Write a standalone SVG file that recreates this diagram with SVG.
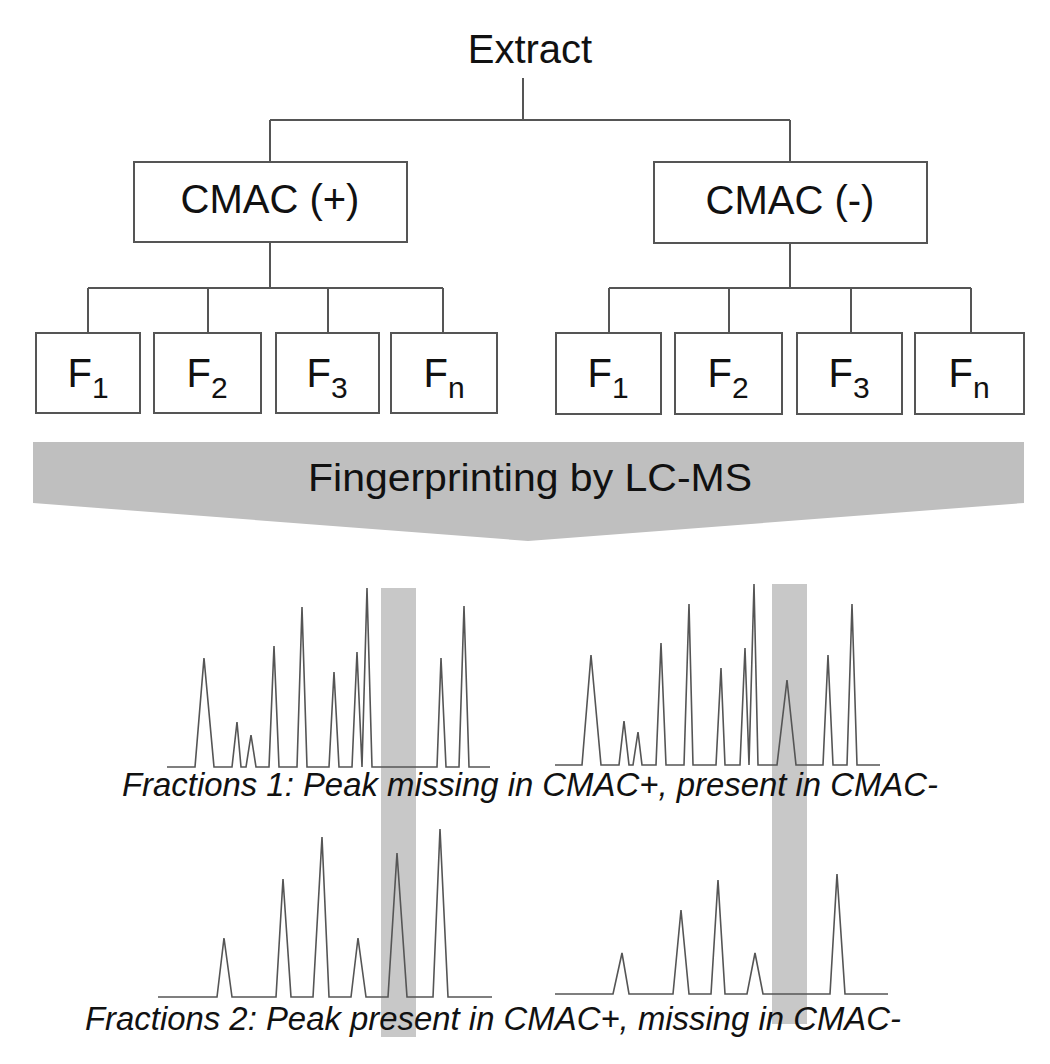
<svg xmlns="http://www.w3.org/2000/svg" width="1050" height="1064" viewBox="0 0 1050 1064">
<style>
  text { font-family: "Liberation Sans", Arial, sans-serif; fill: #111; }
  .box { fill: #fff; stroke: #555; stroke-width: 2; }
  .conn { fill: none; stroke: #555; stroke-width: 2; }
  .big { font-size: 40px; text-anchor: middle; }
  .sub { font-size: 30px; }
  .chrom { fill: none; stroke: #555; stroke-width: 1.6; stroke-linejoin: miter; }
  .bar { fill: #c8c8c8; }
  .cap { font-size: 33px; font-style: italic; }
</style>
<rect width="1050" height="1064" fill="#fff"/>

<g id="connectors">
  <path class="conn" d="M523,78 V120 M270,120 H790 M270,120 V162 M790,120 V162"/>
  <path class="conn" d="M270,242 V288 M88,288 H443 M88,288 V333 M208,288 V333 M328,288 V333 M443,288 V333"/>
  <path class="conn" d="M790,243 V288 M609,288 H971 M609,288 V333 M729,288 V333 M851,288 V333 M971,288 V333"/>
</g>

<g id="extract"><text class="big" x="530" y="63">Extract</text></g>

<g id="cmac-plus">
  <rect class="box" x="134" y="162" width="273" height="80"/>
  <text class="big" x="270" y="213">CMAC (+)</text>
</g>
<g id="cmac-minus">
  <rect class="box" x="654" y="162" width="273" height="81"/>
  <text class="big" x="790" y="214">CMAC (-)</text>
</g>

<g id="plus-f1"><rect class="box" x="36" y="333" width="104" height="80"/><text class="big" x="88" y="387">F<tspan class="sub" dy="11">1</tspan></text></g>
<g id="plus-f2"><rect class="box" x="154" y="333" width="107" height="80"/><text class="big" x="207" y="387">F<tspan class="sub" dy="11">2</tspan></text></g>
<g id="plus-f3"><rect class="box" x="276" y="333" width="103" height="80"/><text class="big" x="327" y="387">F<tspan class="sub" dy="11">3</tspan></text></g>
<g id="plus-fn"><rect class="box" x="391" y="333" width="106" height="80"/><text class="big" x="444" y="387">F<tspan class="sub" dy="11">n</tspan></text></g>

<g id="minus-f1"><rect class="box" x="556" y="333" width="105" height="81"/><text class="big" x="608" y="387">F<tspan class="sub" dy="11">1</tspan></text></g>
<g id="minus-f2"><rect class="box" x="675" y="333" width="107" height="81"/><text class="big" x="728" y="387">F<tspan class="sub" dy="11">2</tspan></text></g>
<g id="minus-f3"><rect class="box" x="797" y="333" width="105" height="81"/><text class="big" x="849" y="387">F<tspan class="sub" dy="11">3</tspan></text></g>
<g id="minus-fn"><rect class="box" x="915" y="333" width="109" height="81"/><text class="big" x="969" y="387">F<tspan class="sub" dy="11">n</tspan></text></g>

<g id="fingerprinting">
  <polygon points="33,442 1024,442 1024,503 528,541 33,503" fill="#bfbfbf"/>
  <text x="308" y="491" font-size="39" textLength="444" lengthAdjust="spacingAndGlyphs">Fingerprinting by LC-MS</text>
</g>

<g id="highlights">
  <rect class="bar" x="381" y="588" width="35" height="449"/>
  <rect class="bar" x="772" y="584" width="35" height="440"/>
</g>

<g id="chromatograms">
  <path class="chrom" d="M167,767 L195,767 L204,658 L214,767 L232,767 L237,722 L241,767 L246,767 L251,735 L256,767 L269,767 L274,646 L279,767 L297,767 L302,607 L307,767 L329,767 L334,672 L339,767 L352,767 L357,652 L362,767 L367,588 L372,767 L437,767 L441,658 L446,767 L459,767 L464,606 L469,767 L490,767"/>
  <path class="chrom" d="M555,765 L582,765 L591,655 L601,765 L619,765 L624,721 L629,765 L633,765 L638,732 L642,765 L656,765 L661,643 L666,765 L684,765 L689,604 L693,765 L716,765 L721,668 L725,765 L740,765 L745,648 L749,765 L754,584 L758,765 L777,765 L787,680 L796,765 L823,765 L828,655 L833,765 L847,765 L852,604 L857,765 L880,765"/>
  <path class="chrom" d="M158,997 L217,997 L224,938 L232,997 L276,997 L283,879 L291,997 L313,997 L322,837 L329,997 L351,997 L358,938 L366,997 L388,997 L397,853 L407,997 L433,997 L440,829 L448,997 L492,997"/>
  <path class="chrom" d="M555,994 L613,994 L622,953 L629,994 L673,994 L681,910 L689,994 L711,994 L718,880 L725,994 L747,994 L755,953 L763,994 L830,994 L837,874 L845,994 L888,994"/>
</g>

<g id="captions">
  <text class="cap" x="122" y="796" textLength="816" lengthAdjust="spacingAndGlyphs">Fractions 1: Peak missing in CMAC+, present in CMAC-</text>
  <text class="cap" x="85" y="1030" textLength="816" lengthAdjust="spacingAndGlyphs">Fractions 2: Peak present in CMAC+, missing in CMAC-</text>
</g>
</svg>
